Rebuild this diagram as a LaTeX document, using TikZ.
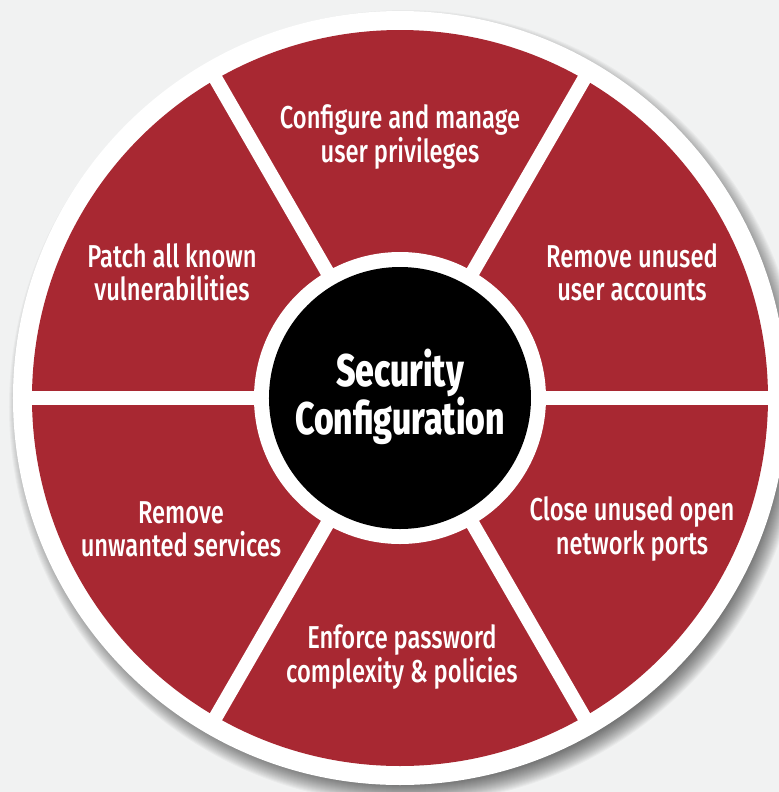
\documentclass[tikz,border=0pt]{standalone}
\usepackage{fontspec}
\setmainfont{Fira Sans Medium}[FakeStretch=0.75]
\newfontfamily\hubfont{Fira Sans ExtraBold}[FakeStretch=0.74]
\tikzset{
  itemtext/.style={text=white, align=center, font=\fontsize{9}{9.4}\selectfont},
  hubtext/.style={text=white, align=center, font=\hubfont\fontsize{13}{13.8}\selectfont},
  spoke/.style={white, line width=4pt},
}
\begin{document}
\begin{tikzpicture}[x=0.1mm, y=0.1mm]
\definecolor{bg}{HTML}{F1F2F2}
\definecolor{wheelred}{HTML}{A82832}
\useasboundingbox (-400,-394) rectangle (379,398);
\clip (-400,-394) rectangle (379,398);
\fill[bg] (-400,-394) rectangle (379,398);
% soft shadow to the lower right
\foreach \i in {1,...,22}
  \fill[black, opacity=0.03] (6,-9) circle (375+\i);
% wheel
\fill[white] (0,0) circle (387);
\fill[wheelred] (0,0) circle (368);
\draw[spoke] (180:376) -- (0:376);
\draw[spoke] (240:376) -- (60:376);
\draw[spoke] (300:376) -- (120:376);
\fill[white] (0,0) circle (146);
\fill[black] (0,0) circle (131);
% labels
\node[hubtext] (hub) at (0,1) {Security\\Configuration};
\node[itemtext] (privileges) at (0,261) {Configure and manage\\user privileges};
\node[itemtext] (accounts) at (232,126) {Remove unused\\user accounts};
\node[itemtext] (ports) at (232,-131) {Close unused open\\network ports};
\node[itemtext] (password) at (2,-259) {Enforce password\\complexity \& policies};
\node[itemtext] (services) at (-219,-131) {Remove\\unwanted services};
\node[itemtext] (patch) at (-228,126) {Patch all known\\vulnerabilities};
\end{tikzpicture}
\end{document}
